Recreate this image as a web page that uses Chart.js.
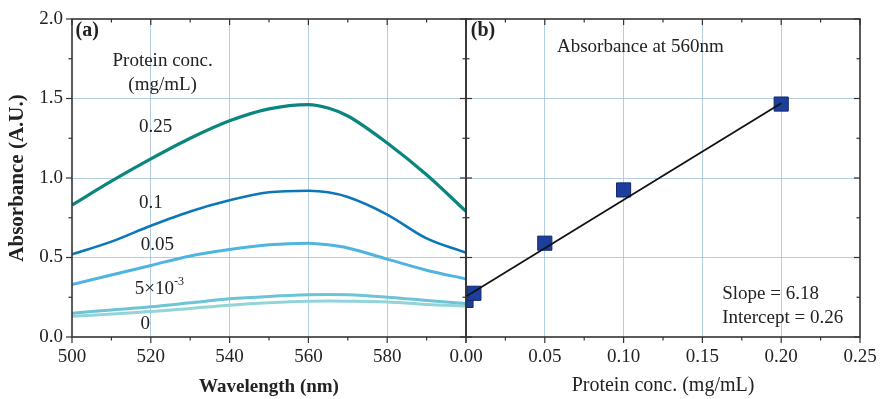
<!DOCTYPE html>
<html>
<head>
<meta charset="utf-8">
<script src="https://cdn.jsdelivr.net/npm/chart.js@4/dist/chart.umd.min.js"></script>
<style>
  body { margin: 0; background: #fff; }
  #wrap { position: relative; width: 880px; height: 399px; overflow: hidden; }
  canvas { position: absolute; top: 0; }
  #left { left: 0; }
  #right { left: 420px; }
</style>
</head>
<body>
<div id="wrap">
  <canvas id="left" width="480" height="399"></canvas>
  <canvas id="right" width="460" height="399"></canvas>
</div>
<script>
// panel (a): spectra
const wavelengths = [500, 510, 520, 530, 540, 550, 560, 565, 570, 580, 590, 600];
const abs025 = [0.83, 0.98, 1.12, 1.25, 1.36, 1.435, 1.462, 1.44, 1.39, 1.22, 1.02, 0.79];
const abs010 = [0.52, 0.60, 0.70, 0.79, 0.86, 0.91, 0.92, 0.91, 0.88, 0.77, 0.62, 0.53];
const abs005 = [0.33, 0.39, 0.45, 0.51, 0.55, 0.58, 0.59, 0.58, 0.56, 0.49, 0.42, 0.365];
const abs0005 = [0.15, 0.17, 0.19, 0.215, 0.24, 0.255, 0.265, 0.267, 0.265, 0.25, 0.23, 0.21];
const abs000 = [0.13, 0.145, 0.16, 0.18, 0.20, 0.215, 0.225, 0.226, 0.225, 0.22, 0.205, 0.195];
const curveColors = ["#0a867e", "#0c77b8", "#4fb4e0", "#6cc4d4", "#93d4d8"];
const curveWidths = [3.2, 2.6, 3, 3, 3];

// panel (b): absorbance at 560 nm
const concX = [0, 0.005, 0.05, 0.1, 0.2];
const abs560 = [0.23, 0.275, 0.59, 0.925, 1.465];
const fitX = [0, 0.2];
const fitY = [0.255, 1.47];

const serif = "'Liberation Serif', 'Times New Roman', serif";
const textColor = "#222";
const gridColor = "rgba(160,195,218,0.8)";

function near(v, step) {
  return Math.abs(v / step - Math.round(v / step)) < 1e-6;
}

const framePlugin = {
  id: "frame",
  afterDraw(chart, args, opts) {
    const { ctx, chartArea: a } = chart;
    const xs = chart.scales.x, ys = chart.scales.y;
    ctx.save();
    ctx.strokeStyle = "#333";
    ctx.lineWidth = 1.2;
    const seg = (x1, y1, x2, y2) => {
      ctx.beginPath(); ctx.moveTo(x1, y1); ctx.lineTo(x2, y2); ctx.stroke();
    };
    xs.ticks.forEach(t => {
      const px = xs.getPixelForValue(t.value);
      const len = near(t.value, opts.xMajor) ? 6 : 3.5;
      seg(px, a.bottom, px, a.bottom + len);
      seg(px, a.top, px, a.top + len);
    });
    ys.ticks.forEach(t => {
      const py = ys.getPixelForValue(t.value);
      const len = near(t.value, 0.5) ? 6 : 3.5;
      if (opts.leftOut) seg(a.left - len, py, a.left, py);
      else seg(a.left, py, a.left + len, py);
      seg(a.right - len, py, a.right, py);
    });
    ctx.lineWidth = 1.6;
    ctx.strokeRect(a.left, a.top, a.width, a.height);
    ctx.restore();
  }
};

const notesPlugin = {
  id: "notes",
  afterDatasetsDraw(chart, args, opts) {
    const { ctx } = chart;
    const xs = chart.scales.x, ys = chart.scales.y;
    ctx.save();
    ctx.fillStyle = textColor;
    ctx.textBaseline = "middle";
    opts.items.forEach(n => {
      const px = xs.getPixelForValue(n.x);
      const py = ys.getPixelForValue(n.y);
      const size = n.size || 19;
      ctx.font = (n.bold ? "bold " : "") + size + "px " + serif;
      ctx.textAlign = n.align || "center";
      if (n.sup) {
        const w = ctx.measureText(n.text).width;
        ctx.font = "12px " + serif;
        const ws = ctx.measureText(n.sup).width;
        ctx.font = size + "px " + serif;
        ctx.textAlign = "left";
        const x0 = px - (w + ws) / 2;
        ctx.fillText(n.text, x0, py);
        ctx.font = "12px " + serif;
        ctx.fillText(n.sup, x0 + w, py - 7);
      } else {
        ctx.fillText(n.text, px, py);
      }
    });
    ctx.restore();
  }
};

function spectrum(data, i) {
  return {
    data: wavelengths.map((w, k) => ({ x: w, y: data[k] })),
    borderColor: curveColors[i],
    borderWidth: curveWidths[i],
    pointRadius: 0,
    cubicInterpolationMode: "monotone",
    fill: false
  };
}

const tickFont = { family: serif, size: 19 };

new Chart(document.getElementById("left"), {
  type: "line",
  data: {
    datasets: [
      spectrum(abs025, 0),
      spectrum(abs010, 1),
      spectrum(abs005, 2),
      spectrum(abs0005, 3),
      spectrum(abs000, 4)
    ]
  },
  options: {
    responsive: false,
    animation: false,
    layout: { padding: { top: 19, right: 14, left: 0, bottom: 0 } },
    plugins: {
      legend: { display: false },
      tooltip: { enabled: false },
      frame: { xMajor: 20, leftOut: true },
      notes: {
        items: [
          { text: "(a)", x: 500.9, y: 1.925, align: "left", bold: true, size: 20 },
          { text: "Protein conc.", x: 523, y: 1.736 },
          { text: "(mg/mL)", x: 523, y: 1.585 },
          { text: "0.25", x: 521.2, y: 1.32 },
          { text: "0.1", x: 520, y: 0.845 },
          { text: "0.05", x: 521.7, y: 0.578 },
          { text: "5×10", sup: "-3", x: 522.2, y: 0.3 },
          { text: "0", x: 518.6, y: 0.082 }
        ]
      }
    },
    scales: {
      x: {
        type: "linear",
        min: 500,
        max: 600,
        afterFit: s => { s.height = 62; },
        border: { display: false },
        grid: {
          color: c => (c.tick && near(c.tick.value, 20) && c.tick.value > 500 && c.tick.value < 600) ? gridColor : "transparent",
          tickColor: "transparent",
          tickLength: 6
        },
        ticks: {
          stepSize: 10,
          autoSkip: false,
          maxRotation: 0,
          padding: 3,
          color: textColor,
          font: tickFont,
          callback: v => (near(v, 20) && v < 600) ? String(v) : ""
        },
        title: {
          display: true,
          text: "Wavelength (nm)",
          color: textColor,
          font: { family: serif, size: 19, weight: "bold" },
          padding: { top: 0, bottom: 1 }
        }
      },
      y: {
        min: 0,
        max: 2,
        afterFit: s => { s.width = 72; },
        border: { display: false },
        grid: {
          color: c => (c.tick && near(c.tick.value, 0.5) && c.tick.value > 0 && c.tick.value < 2) ? gridColor : "transparent",
          tickColor: "transparent",
          tickLength: 6
        },
        ticks: {
          stepSize: 0.25,
          autoSkip: false,
          padding: 3,
          color: textColor,
          font: tickFont,
          callback: v => near(v, 0.5) ? v.toFixed(1) : ""
        },
        title: {
          display: true,
          text: "Absorbance (A.U.)",
          color: textColor,
          font: { family: serif, size: 21, weight: "bold" },
          padding: { top: 5, bottom: 0 }
        }
      }
    }
  },
  plugins: [framePlugin, notesPlugin]
});

new Chart(document.getElementById("right"), {
  type: "scatter",
  data: {
    datasets: [
      {
        type: "line",
        data: fitX.map((x, k) => ({ x: x, y: fitY[k] })),
        borderColor: "#111",
        borderWidth: 1.8,
        pointRadius: 0,
        clip: 0
      },
      {
        data: concX.map((x, k) => ({ x: x, y: abs560[k] })),
        pointStyle: "rect",
        pointRadius: 10,
        backgroundColor: "#1d3f9c",
        borderColor: "#13286e",
        borderWidth: 1,
        clip: 0
      }
    ]
  },
  options: {
    responsive: false,
    animation: false,
    layout: { padding: { top: 19, right: 20, left: 0, bottom: 0 } },
    plugins: {
      legend: { display: false },
      tooltip: { enabled: false },
      frame: { xMajor: 0.05, leftOut: false },
      notes: {
        items: [
          { text: "(b)", x: 0.003, y: 1.925, align: "left", bold: true, size: 20 },
          { text: "Absorbance at 560nm", x: 0.1106, y: 1.824 },
          { text: "Slope = 6.18", x: 0.1626, y: 0.27, align: "left" },
          { text: "Intercept = 0.26", x: 0.1626, y: 0.12, align: "left" }
        ]
      }
    },
    scales: {
      x: {
        type: "linear",
        min: 0,
        max: 0.25,
        afterFit: s => { s.height = 62; },
        border: { display: false },
        grid: {
          color: c => (c.tick && near(c.tick.value, 0.05) && c.tick.value > 0.001 && c.tick.value < 0.249) ? gridColor : "transparent",
          tickColor: "transparent",
          tickLength: 6
        },
        ticks: {
          stepSize: 0.025,
          autoSkip: false,
          maxRotation: 0,
          padding: 3,
          color: textColor,
          font: tickFont,
          callback: v => near(v, 0.05) ? v.toFixed(2) : ""
        },
        title: {
          display: true,
          text: "Protein conc. (mg/mL)",
          color: textColor,
          font: { family: serif, size: 20 },
          padding: { top: 0, bottom: 1 }
        }
      },
      y: {
        min: 0,
        max: 2,
        afterFit: s => { s.width = 46; },
        border: { display: false },
        grid: {
          color: c => (c.tick && near(c.tick.value, 0.5) && c.tick.value > 0 && c.tick.value < 2) ? gridColor : "transparent",
          tickColor: "transparent",
          drawTicks: false
        },
        ticks: { stepSize: 0.25, display: false }
      }
    }
  },
  plugins: [framePlugin, notesPlugin]
});
</script>
</body>
</html>
